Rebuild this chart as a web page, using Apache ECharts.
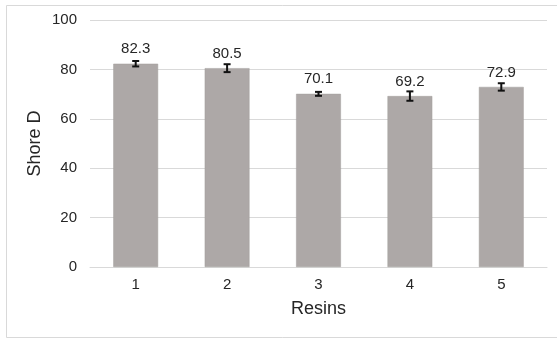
<!DOCTYPE html>
<html>
<head>
<meta charset="utf-8">
<script src="https://cdn.jsdelivr.net/npm/echarts@6/dist/echarts.min.js"></script>
<style>html,body{margin:0;padding:0;background:#fff;}#c{width:557px;height:338px;}</style>
</head>
<body>
<div id="c"></div>
<script>
var categories = ['1', '2', '3', '4', '5'];
var shoreD = [82.3, 80.5, 70.1, 69.2, 72.9];
var errors = [1.1, 1.6, 0.8, 1.9, 1.5];
var yTicks = [0, 20, 40, 60, 80, 100];

var chart = echarts.init(document.getElementById('c'));
var errData = shoreD.map(function (v, i) { return [i, v - errors[i], v + errors[i]]; });
var font = '"Liberation Sans", Arial, sans-serif';
chart.setOption({
  animation: false,
  backgroundColor: '#fff',
  graphic: [{
    type: 'rect', left: 4, top: 3, shape: { width: 580, height: 332 },
    style: { fill: 'none', stroke: '#d9d9d9', lineWidth: 1 }, silent: true, z: -1
  }],
  grid: { left: 90, right: 10, top: 20, bottom: 71 },
  xAxis: {
    type: 'category', data: categories,
    name: 'Resins', nameLocation: 'middle', nameGap: 33,
    nameTextStyle: { fontFamily: font, fontSize: 18, color: '#262626' },
    axisLine: { lineStyle: { color: '#d9d9d9', width: 1 } },
    axisTick: { show: false },
    axisLabel: { fontFamily: font, fontSize: 15, color: '#262626', margin: 10 }
  },
  yAxis: {
    type: 'value', min: yTicks[0], max: yTicks[yTicks.length - 1], interval: 20,
    name: 'Shore D', nameLocation: 'middle', nameGap: 46, nameMoveOverlap: false,
    nameTextStyle: { fontFamily: font, fontSize: 18, color: '#262626' },
    axisLine: { show: false }, axisTick: { show: false },
    axisLabel: { fontFamily: font, fontSize: 15, color: '#262626', margin: 13 },
    splitLine: { lineStyle: { color: '#d9d9d9', width: 1 } }
  },
  series: [{
    type: 'bar', data: shoreD, barWidth: '49%',
    itemStyle: { color: '#ada8a7', borderColor: '#a39e9d', borderWidth: 0.5 },
    label: { show: true, position: 'top', distance: 7, fontFamily: font, fontSize: 15, color: '#262626',
      formatter: function (p) { return p.value.toFixed(1); } },
    z: 2
  }, {
    type: 'custom', data: errData, z: 5,
    renderItem: function (params, api) {
      var x = api.value(0);
      var lo = api.coord([x, api.value(1)]);
      var hi = api.coord([x, api.value(2)]);
      var hw = 3.5;
      var st = { stroke: '#111', lineWidth: 2 };
      return { type: 'group', children: [
        { type: 'line', shape: { x1: lo[0], y1: lo[1], x2: hi[0], y2: hi[1] }, style: st },
        { type: 'line', shape: { x1: lo[0] - hw, y1: lo[1], x2: lo[0] + hw, y2: lo[1] }, style: st },
        { type: 'line', shape: { x1: hi[0] - hw, y1: hi[1], x2: hi[0] + hw, y2: hi[1] }, style: st }
      ]};
    }
  }]
});
</script>
</body>
</html>
